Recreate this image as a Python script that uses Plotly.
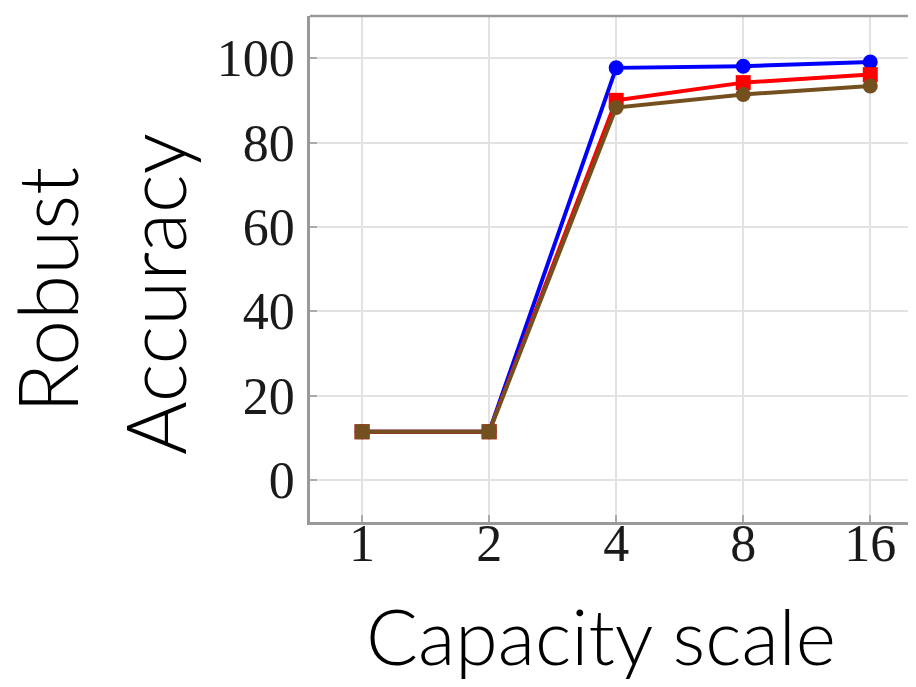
import plotly.graph_objects as go

capacity = ["1", "2", "4", "8", "16"]
blue_vals = [11.4, 11.4, 97.7, 98.1, 99.1]
red_vals = [11.4, 11.4, 90.0, 94.2, 96.1]
brown_vals = [11.4, 11.4, 88.3, 91.4, 93.4]
brown_symbols = ["square", "square", "circle", "circle", "circle"]
y_ticks = [0, 20, 40, 60, 80, 100]

fig = go.Figure()
fig.add_trace(go.Scatter(x=capacity, y=blue_vals, mode="lines+markers",
                         line=dict(color="#0000ff", width=4),
                         marker=dict(color="#0000ff", size=15, symbol="circle")))
fig.add_trace(go.Scatter(x=capacity, y=red_vals, mode="lines+markers",
                         line=dict(color="#ff0000", width=4),
                         marker=dict(color="#ff0000", size=15, symbol="square")))
fig.add_trace(go.Scatter(x=capacity, y=brown_vals, mode="lines+markers",
                         line=dict(color="#74501f", width=4),
                         marker=dict(color="#74501f", size=15, symbol=brown_symbols)))

axis_common = dict(showgrid=True, gridcolor="#e2e2e2", gridwidth=1.5,
                   showline=True, linecolor="#999999", linewidth=2.5,
                   ticks="inside", ticklen=7, tickcolor="#aaaaaa", tickwidth=1.5,
                   zeroline=False, automargin=False,
                   tickfont=dict(family="Liberation Serif", size=52, color="#1a1a1a"))

fig.update_xaxes(type="category", range=[-0.41, 4.36], ticklabelstandoff=-26, **axis_common)
fig.update_yaxes(range=[-10, 110], tickvals=y_ticks, ticklabelstandoff=2, **axis_common)

fig.add_shape(type="line", xref="paper", yref="paper", x0=0, x1=1, y0=1, y1=1,
              line=dict(color="#999999", width=2.5))

title_font = dict(family="Lato", size=82, color="#000000", weight=300)
fig.add_annotation(text="Robust", xref="paper", yref="paper",
                   x=(46 - 310) / 606, y=(522 - 290) / 506, textangle=-90,
                   xanchor="center", yanchor="middle", showarrow=False, font=title_font)
fig.add_annotation(text="Accuracy", xref="paper", yref="paper",
                   x=(154 - 310) / 606, y=(522 - 294) / 506, textangle=-90,
                   xanchor="center", yanchor="middle", showarrow=False, font=title_font)
fig.add_annotation(text="Capacity scale", xref="paper", yref="paper",
                   x=(601 - 310) / 606, y=-(635 - 522) / 506,
                   xanchor="center", yanchor="middle", showarrow=False,
                   font=dict(family="Lato", size=77, color="#000000", weight=300))

# page body has an 8px margin: figure is sized so the plot area lands where the reference has it
fig.update_layout(width=908, height=679, showlegend=False,
                  margin=dict(l=302, r=0, t=8, b=165, autoexpand=False),
                  plot_bgcolor="white", paper_bgcolor="white")

fig.write_html("out.html")
